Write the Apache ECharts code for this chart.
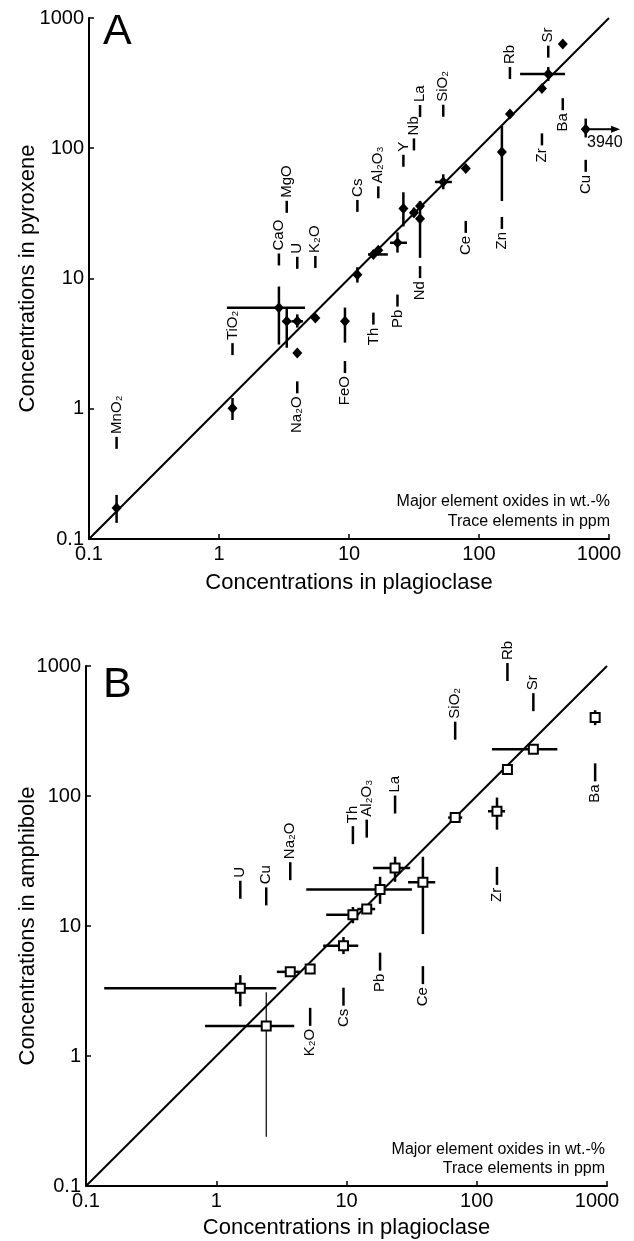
<!DOCTYPE html>
<html>
<head>
<meta charset="utf-8">
<script src="https://cdn.jsdelivr.net/npm/echarts@6/dist/echarts.min.js"></script>
<style>
  html, body { margin: 0; padding: 0; background: #fff; }
  #chart { width: 634px; height: 1241px; }
</style>
</head>
<body>
<div id="chart"></div>
<script>
// ---- panel A: pyroxene vs plagioclase ----
const aNames = ['MnO₂', 'TiO₂', 'CaO', 'MgO', 'U', 'Na₂O', 'K₂O', 'FeO', 'Cs', 'Th', 'Al₂O₃', 'Pb',
  'Y', 'Nb', 'La', 'Nd', 'SiO₂', 'Ce', 'Zn', 'Rb', 'Zr', 'Sr', 'Ba', 'Cu']
const aX = [0.163, 1.27, 2.89, 3.32, 4.0, 4.0, 5.51, 9.31, 11.6, 15.4, 16.8, 23.6,
  26.2, 31.6, 35.2, 35.2, 53.1, 79.1, 150, 173, 305, 341, 441, 662]
const aY = [0.173, 1.01, 5.95, 4.69, 4.69, 2.68, 4.98, 4.69, 10.7, 15.3, 16.5, 18.8,
  34.4, 32.0, 36.0, 28.8, 55.1, 69.8, 93.7, 183, 288, 371, 631, 140]
const aXLo = [null, null, 1.15, 3.09, 3.64, null, null, null, null, 14.0, null, 20.7,
  null, 29.5, null, 33.0, 45.9, null, null, null, null, 207, null, null]
const aXHi = [null, null, 4.59, 3.62, 4.43, null, null, null, null, 19.9, null, 27.9,
  null, 34.0, null, 37.5, 61.9, null, null, null, null, 459, null, null]
const aYLo = [0.133, 0.82, 3.11, 2.94, 4.2, null, null, 3.22, 9.3, null, null, 15.8,
  25.1, 29.5, null, 14.4, 48.4, null, 39.3, null, null, 328, null, 121]
const aYHi = [0.218, 1.21, 8.68, 5.98, 5.3, null, null, 5.98, 12.2, null, null, 22.6,
  45.9, 35.0, null, 39.3, 63.1, null, 148.5, null, null, 420, null, 169]
// where each element tag sits (y of its dash) and whether the text is above or below it
const aLabelY = [0.547, 2.87, 14.0, 35.5, 13.2, 1.46, 13.4, 2.09, 36.1, 4.92, 45.9, 6.77,
  80.1, 107, 193, 11.2, 194, 24.9, 26.7, 378, 117, 552, 218, 73.3]
const aLabelSide = ['up', 'up', 'up', 'up', 'up', 'down', 'up', 'down', 'up', 'down', 'up', 'down',
  'up', 'up', 'up', 'down', 'up', 'down', 'down', 'up', 'down', 'up', 'down', 'down']
// Cu plagioclase value is off scale
const cuOffScale = { from: 714, to: 1216, y: 140, value: 3940 }

// ---- panel B: amphibole vs plagioclase ----
const bNames = ['U', 'Cu', 'Na₂O', 'K₂O', 'Cs', 'Th', 'Al₂O₃', 'Pb', 'La', 'Ce', 'SiO₂', 'Zr', 'Rb', 'Sr', 'Ba']
const bX = [1.53, 2.42, 3.70, 5.26, 9.48, 11.2, 14.3, 18.1, 23.6, 38.6, 68.3, 143, 172, 272, 811]
const bY = [3.32, 1.70, 4.44, 4.66, 7.05, 12.2, 13.5, 19.1, 27.9, 21.7, 68.2, 76.3, 160, 229, 402]
const bXLo = [0.138, 0.82, 2.92, null, 6.62, 6.98, 12.1, 4.91, 16.0, 29.7, 60.3, 122, null, 131, 741]
const bXHi = [2.89, 3.97, 4.41, null, 12.3, 12.1, 16.6, 31.8, 30.8, 48.0, 77.3, 165, null, 416, 885]
const bYLo = [2.41, 0.239, null, null, 6.08, 10.5, null, 14.8, 21.9, 8.67, null, 55.1, null, 214, 351]
const bYHi = [4.19, 3.09, null, null, 8.22, 14.0, null, 23.9, 34.1, 34.1, null, 97.3, null, 245, 457]
const bLabelY = [19.0, 16.9, 26.4, 2.0, 2.86, 50.0, 56.1, 5.32, 86.0, 4.19, 318, 24.3, 899, 527, 152]
const bLabelSide = ['up', 'up', 'up', 'down', 'down', 'up', 'up', 'down', 'up', 'down', 'up', 'down', 'up', 'up', 'down']
const bThinBars = ['Cu']

const tickValues = [0.1, 1, 10, 100, 1000]
const oneToOne = [[0.1, 0.1], [1000, 1000]]

const font = 'Liberation Sans, Arial, Helvetica, sans-serif'

function errorRows(x, y, xLo, xHi, yLo, yHi) {
  return x.map((v, i) => [v, y[i], xLo[i], xHi[i], yLo[i], yHi[i]])
}

function errorBars(thinIdx) {
  return function (params, api) {
    const x = api.value(0)
    const y = api.value(1)
    const xlo = api.value(2)
    const xhi = api.value(3)
    const ylo = api.value(4)
    const yhi = api.value(5)
    const children = []
    if (isFinite(xlo) && isFinite(xhi)) {
      const p0 = api.coord([xlo, y])
      const p1 = api.coord([xhi, y])
      children.push({
        type: 'line',
        shape: { x1: p0[0], y1: p0[1], x2: p1[0], y2: p1[1] },
        style: { stroke: '#000', lineWidth: 2.5 },
      })
    }
    if (isFinite(ylo) && isFinite(yhi)) {
      const p0 = api.coord([x, ylo])
      const p1 = api.coord([x, yhi])
      children.push({
        type: 'line',
        shape: { x1: p0[0], y1: p0[1], x2: p1[0], y2: p1[1] },
        style: { stroke: '#000', lineWidth: thinIdx.includes(params.dataIndex) ? 1.2 : 2.5 },
      })
    }
    return { type: 'group', children }
  }
}

function tagData(names, x, labelY, side) {
  return names.map((n, i) => ({
    name: n,
    value: [x[i], labelY[i]],
    label: side[i] === 'up'
      ? { position: 'top', align: 'left' }
      : { position: 'bottom', align: 'right' },
  }))
}

function tickText(v) {
  return String(Math.round(v * 10) / 10)
}

function logAxis(gridIndex, name, nameGap, isX) {
  return {
    type: 'log',
    logBase: 10,
    min: 0.1,
    max: 1000,
    gridIndex,
    name,
    nameLocation: 'middle',
    nameGap,
    nameMoveOverlap: false,
    nameTextStyle: { fontSize: 22, color: '#000', fontFamily: font },
    axisLine: { show: true, onZero: false, lineStyle: { color: '#000', width: 2 } },
    axisTick: { show: true, inside: true, length: 5, customValues: tickValues, lineStyle: { color: '#000', width: 1.5 } },
    axisLabel: {
      fontSize: 20, color: '#000', fontFamily: font, margin: 5,
      customValues: tickValues,
      // the last x label sits a little left of its tick in the original
      formatter: (v) => (isX && v === 1000 ? '{r|' + tickText(v) + '}' : tickText(v)),
      rich: { r: { fontSize: 20, color: '#000', fontFamily: font, padding: [0, 20, 0, 0] } },
    },
    splitLine: { show: false },
    minorTick: { show: false },
    minorSplitLine: { show: false },
  }
}

function panelSeries(idx, names, x, y, errs, labelY, side, thin, pointStyle, dashSize) {
  return [
    {
      type: 'line', xAxisIndex: idx, yAxisIndex: idx, data: oneToOne,
      symbol: 'none', silent: true, z: 1,
      lineStyle: { color: '#000', width: 2 },
    },
    {
      type: 'custom', xAxisIndex: idx, yAxisIndex: idx, silent: true, z: 2,
      encode: { x: 0, y: 1 },
      data: errs,
      renderItem: errorBars(thin.map((n) => names.indexOf(n))),
    },
    Object.assign({
      type: 'scatter', xAxisIndex: idx, yAxisIndex: idx, silent: true, z: 3,
      data: x.map((v, i) => [v, y[i]]),
    }, pointStyle),
    {
      type: 'scatter', xAxisIndex: idx, yAxisIndex: idx, silent: true, z: 4,
      symbol: 'rect', symbolSize: dashSize,
      itemStyle: { color: '#000', opacity: 1 },
      label: {
        show: true, formatter: '{b}', rotate: 90, distance: 3,
        verticalAlign: 'middle', fontSize: 15, color: '#000', fontFamily: font,
      },
      data: tagData(names, x, labelY, side),
    },
  ]
}

const chart = echarts.init(document.getElementById('chart'))

chart.setOption({
  backgroundColor: '#fff',
  animation: false,
  grid: [
    { left: 89, right: 25, top: 18, height: 521, outerBoundsMode: 'none' },
    { left: 86, right: 27, top: 666, height: 520, outerBoundsMode: 'none' },
  ],
  xAxis: [
    logAxis(0, 'Concentrations in plagioclase', 33, true),
    logAxis(1, 'Concentrations in plagioclase', 31, true),
  ],
  yAxis: [
    logAxis(0, 'Concentrations in pyroxene', 50, false),
    logAxis(1, 'Concentrations in amphibole', 47, false),
  ],
  series: [
    ...panelSeries(0, aNames, aX, aY, errorRows(aX, aY, aXLo, aXHi, aYLo, aYHi), aLabelY, aLabelSide, [],
      { symbol: 'diamond', symbolSize: [10, 11], itemStyle: { color: '#000', opacity: 1 } }, [2.5, 12]),
    ...panelSeries(1, bNames, bX, bY, errorRows(bX, bY, bXLo, bXHi, bYLo, bYHi), bLabelY, bLabelSide, bThinBars,
      { symbol: 'rect', symbolSize: 9, itemStyle: { color: '#fff', borderColor: '#000', borderWidth: 2, opacity: 1 } }, [2.5, 18]),
    {
      type: 'custom', xAxisIndex: 0, yAxisIndex: 0, silent: true, clip: false, z: 5,
      encode: { x: [0, 2], y: 1 },
      data: [[cuOffScale.from, cuOffScale.y, cuOffScale.to, cuOffScale.value]],
      renderItem(params, api) {
        const p0 = api.coord([api.value(0), api.value(1)])
        const p1 = api.coord([api.value(2), api.value(1)])
        return {
          type: 'group',
          children: [
            { type: 'line', shape: { x1: p0[0], y1: p0[1], x2: p1[0] - 7, y2: p1[1] }, style: { stroke: '#000', lineWidth: 2 } },
            { type: 'polygon', shape: { points: [[p1[0], p1[1]], [p1[0] - 9, p1[1] - 3.5], [p1[0] - 9, p1[1] + 3.5]] }, style: { fill: '#000' } },
            { type: 'text', style: { text: String(api.value(3)), x: p0[0] - 3, y: p0[1] + 5, font: '16px ' + font, fill: '#000', textVerticalAlign: 'top' } },
          ],
        }
      },
    },
  ],
  graphic: [
    { type: 'text', left: 103, top: 11, style: { text: 'A', font: '43px ' + font, fill: '#000' } },
    { type: 'text', left: 103, top: 664, style: { text: 'B', font: '43px ' + font, fill: '#000' } },
    { type: 'text', right: 24, top: 494, style: { text: 'Major element oxides in wt.-%', font: '16px ' + font, fill: '#000' } },
    { type: 'text', right: 24, top: 514, style: { text: 'Trace elements in ppm', font: '16px ' + font, fill: '#000' } },
    { type: 'text', right: 29, top: 1142, style: { text: 'Major element oxides in wt.-%', font: '16px ' + font, fill: '#000' } },
    { type: 'text', right: 29, top: 1161, style: { text: 'Trace elements in ppm', font: '16px ' + font, fill: '#000' } },
  ],
})
</script>
</body>
</html>
